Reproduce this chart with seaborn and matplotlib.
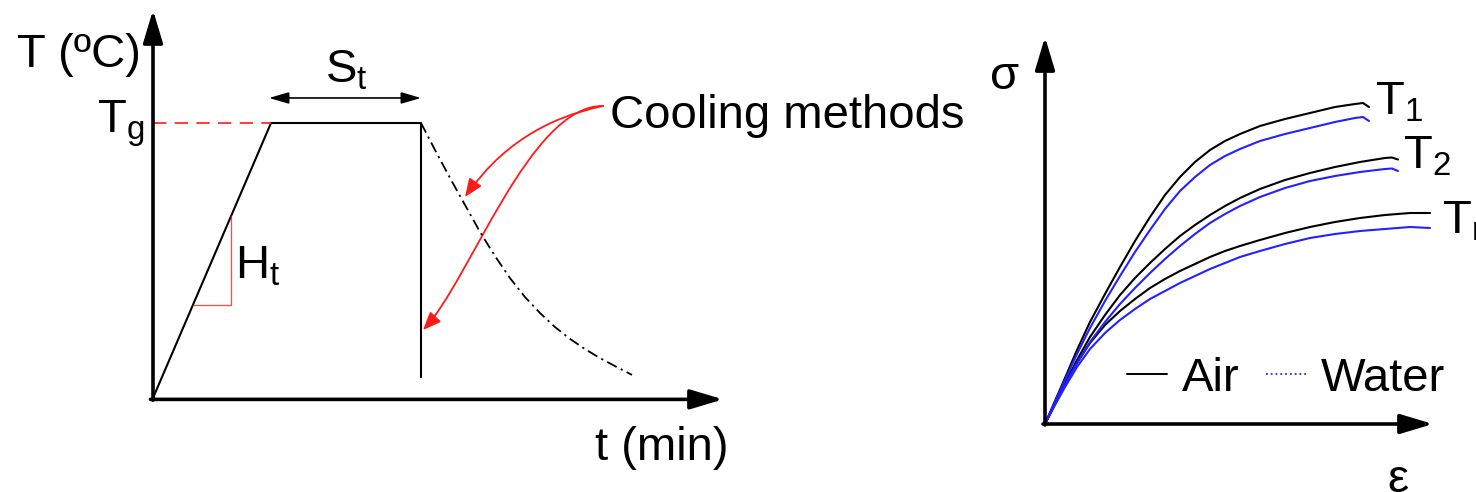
import numpy as np
import pandas as pd
import matplotlib
matplotlib.use("Agg")
import matplotlib.pyplot as plt
import seaborn as sns
from matplotlib.lines import Line2D
from matplotlib.patches import FancyArrowPatch
from matplotlib.path import Path

# ---------------- data ----------------
# Left: heat-treatment profile (time t, temperature T, Tg = 100)
profile_t = [0, 2.36, 5.36, 5.36]
profile_T = [0, 100, 100, 7.6]
# slow cooling curve (dash-dot)
cool_t = [5.36, 5.64, 5.94, 6.24, 6.54, 6.84, 7.14, 7.44, 7.74, 8.04, 8.34, 8.64, 8.94, 9.24, 9.58]
cool_T = [100, 90.2, 80, 70.2, 60.4, 51.6, 43.6, 36.7, 30.9, 25.8, 21.5, 17.8, 14.5, 11.6, 8.4]

# Right: stress-strain curves for T1, T2, Tn, air vs water cooling
eps_T1 = [0, 2.5, 5, 8, 11.25, 15, 18.75, 22.5, 26.25, 30, 33.75, 37.5, 41.25, 45,
          48.75, 53.75, 60, 66.25, 72.5, 77.5, 79.5, 81]
sig_T1_air = [0, 23, 46, 74, 102, 130, 157, 183, 207, 229, 247, 262, 274, 283,
              290, 298, 305, 311, 317, 320, 321, 317]
sig_T1_water = [0, 22, 44, 70, 96, 123, 148, 172, 194, 215, 233, 247, 259, 268,
                275, 283, 290, 296, 302, 306, 307, 303]
eps_T2 = [0, 2.5, 5, 8, 11.25, 15, 18.75, 22.5, 26.25, 30, 33.75, 37.5, 41.25, 45,
          48.75, 53.75, 60, 66.25, 72.5, 78.75, 85, 86.75, 88.25]
sig_T2_air = [0, 21, 41, 64, 87, 109, 129, 146, 161, 175, 188, 199, 209, 218,
              226, 235, 244, 251, 257, 262, 266, 266.5, 264.5]
sig_T2_water = [0, 20, 39, 61, 82, 102, 120, 136, 151, 165, 178, 190, 201, 210,
                218, 227, 236, 243, 248, 252, 255, 255.5, 253]
eps_Tn = [0, 2.5, 5, 8, 11.25, 15, 18.75, 22.5, 26.25, 30, 33.75, 37.5, 41.25, 45,
          48.75, 53.75, 60, 66.25, 72.5, 78.75, 85, 91.25, 96.25]
sig_Tn_air = [0, 20, 39, 61, 81, 99, 113, 125, 136, 145, 153, 160, 167, 173,
              178, 184, 191, 197, 202, 206, 209, 211, 211]
sig_Tn_water = [0, 19, 37, 57, 75, 91, 104, 115, 125, 133, 141, 148, 155, 161,
                167, 173, 180, 186, 190, 193, 195, 197, 196]

cooling_labels = ["Air", "Water"]

# ---------------- style ----------------
sns.set_theme(style="white")
plt.rcParams["font.family"] = ["Liberation Sans", "DejaVu Sans"]
plt.rcParams["mathtext.fontset"] = "custom"
plt.rcParams["mathtext.rm"] = "Liberation Sans"
plt.rcParams["mathtext.it"] = "Liberation Sans:italic"
plt.rcParams["mathtext.bf"] = "Liberation Sans:bold"
plt.rcParams["text.color"] = "black"

FS = 34
BLUE = "#2222ff"
RED = "#ff1a1a"

fig = plt.figure(figsize=(14.76, 4.92), dpi=100)
fig.patch.set_facecolor("white")

# ---------------- left panel ----------------
axL = fig.add_axes([0, 0, 0.6, 1])
axL.set_xlim(-3.06, 14.652)
axL.set_ylim(-34.18, 144.73)
axL.axis("off")

df_prof = pd.DataFrame({"t": profile_t, "T": profile_T})
sns.lineplot(data=df_prof, x="t", y="T", sort=False, estimator=None,
             color="black", lw=1.5, ax=axL)
df_cool = pd.DataFrame({"t": cool_t, "T": cool_T})
sns.lineplot(data=df_cool, x="t", y="T", sort=False, estimator=None,
             color="black", lw=1.3, ax=axL, linestyle=(0, (6, 2.5, 1.2, 2.5)))

axis_arrow = dict(arrowstyle="-|>,head_length=2.0,head_width=0.6", mutation_scale=10,
                  lw=2.6, color="black", shrinkA=0, shrinkB=0)
axL.annotate("", xy=(0, 141.1), xytext=(0, -0.8), arrowprops=axis_arrow)
axL.annotate("", xy=(11.4, -0.5), xytext=(-0.05, -0.5), arrowprops=axis_arrow)

# Tg dashed line
axL.plot([0, profile_t[1]], [100, 100], color=RED, lw=1.2, linestyle=(0, (8, 5)))
# Heating rate triangle
axL.plot([0.8, 1.56, 1.56], [33.9, 33.9, 66.1], color=RED, lw=0.9, alpha=0.8)

# Soaking time double arrow
axL.annotate("", xy=(5.36, 109.1), xytext=(2.32, 109.1),
             arrowprops=dict(arrowstyle="<|-|>,head_length=1.2,head_width=0.35",
                             mutation_scale=10, lw=1.2, color="black",
                             shrinkA=0, shrinkB=0))

axL.text(-1.49, 120.4, "T (ºC)", fontsize=FS, ha="center", va="baseline")
axL.text(-1.12, 96.4, r"$\mathregular{T_g}$", fontsize=FS, ha="left", va="baseline")
axL.text(3.44, 114.9, r"$\mathregular{S_t}$", fontsize=FS, ha="left", va="baseline")
axL.text(1.64, 43.6, r"$\mathregular{H_t}$", fontsize=FS, ha="left", va="baseline")
axL.text(8.84, -22.5, "t (min)", fontsize=FS, ha="left", va="baseline")
axL.text(9.14, 98.2, "Cooling methods", fontsize=FS, ha="left", va="baseline")

red_head = "-|>,head_length=1.1,head_width=0.45"
axL.annotate("", xy=(6.24, 73.1), xytext=(9.0, 106.2),
             arrowprops=dict(arrowstyle=red_head, mutation_scale=10, lw=1.3,
                             color=RED, shrinkA=0, shrinkB=0,
                             connectionstyle="arc3,rad=0.2"))
s_path = Path([(9.0, 106.2), (7.54, 106.5), (6.34, 42.9), (5.4, 24.7)],
              [Path.MOVETO, Path.CURVE4, Path.CURVE4, Path.CURVE4])
arr2 = FancyArrowPatch(path=s_path, arrowstyle=red_head, mutation_scale=10,
                       lw=1.3, color=RED, transform=axL.transData)
axL.add_patch(arr2)

# ---------------- right panel ----------------
axR = fig.add_axes([0.6, 0, 0.4, 1])
axR.set_xlim(-39.85, 107.75)
axR.set_ylim(-68, 424)
axR.axis("off")

rows = []
for temp, eps, air, water in [("T1", eps_T1, sig_T1_air, sig_T1_water),
                              ("T2", eps_T2, sig_T2_air, sig_T2_water),
                              ("Tn", eps_Tn, sig_Tn_air, sig_Tn_water)]:
    for cool, sig in zip(cooling_labels, [air, water]):
        for e, s in zip(eps, sig):
            rows.append({"eps": e, "sigma": s, "temp": temp, "cooling": cool,
                         "curve": temp + cool})
df_ss = pd.DataFrame(rows)
sns.lineplot(data=df_ss, x="eps", y="sigma", hue="cooling", units="curve",
             estimator=None, sort=False, palette={"Air": "black", "Water": BLUE},
             lw=1.5, legend=False, ax=axR)

axR.annotate("", xy=(0, 387), xytext=(0, -1), arrowprops=axis_arrow)
axR.annotate("", xy=(97, 0), xytext=(-0.5, 0), arrowprops=axis_arrow)

axR.text(-10, 347, "σ", fontsize=FS, ha="center", va="center")
axR.text(88.25, -56, "ε", fontsize=FS, ha="center", va="center")
axR.text(82.5, 309, r"$\mathregular{T_1}$", fontsize=FS, ha="left", va="baseline")
axR.text(89.5, 256, r"$\mathregular{T_2}$", fontsize=FS, ha="left", va="baseline")
axR.text(99.25, 190.5, r"$\mathregular{T_n}$", fontsize=FS, ha="left", va="baseline")

handles = [Line2D([], [], color="black", lw=1.4),
           Line2D([], [], color=BLUE, lw=1.3, linestyle=":")]
axR.legend(handles, cooling_labels, ncol=2, frameon=False, loc="center left",
           bbox_to_anchor=(20.5, 45), bbox_transform=axR.transData,
           borderpad=0, borderaxespad=0, handlelength=0.85, handletextpad=0.32,
           columnspacing=0.55, fontsize=FS)

fig.savefig("out.png", dpi=100, facecolor="white")
